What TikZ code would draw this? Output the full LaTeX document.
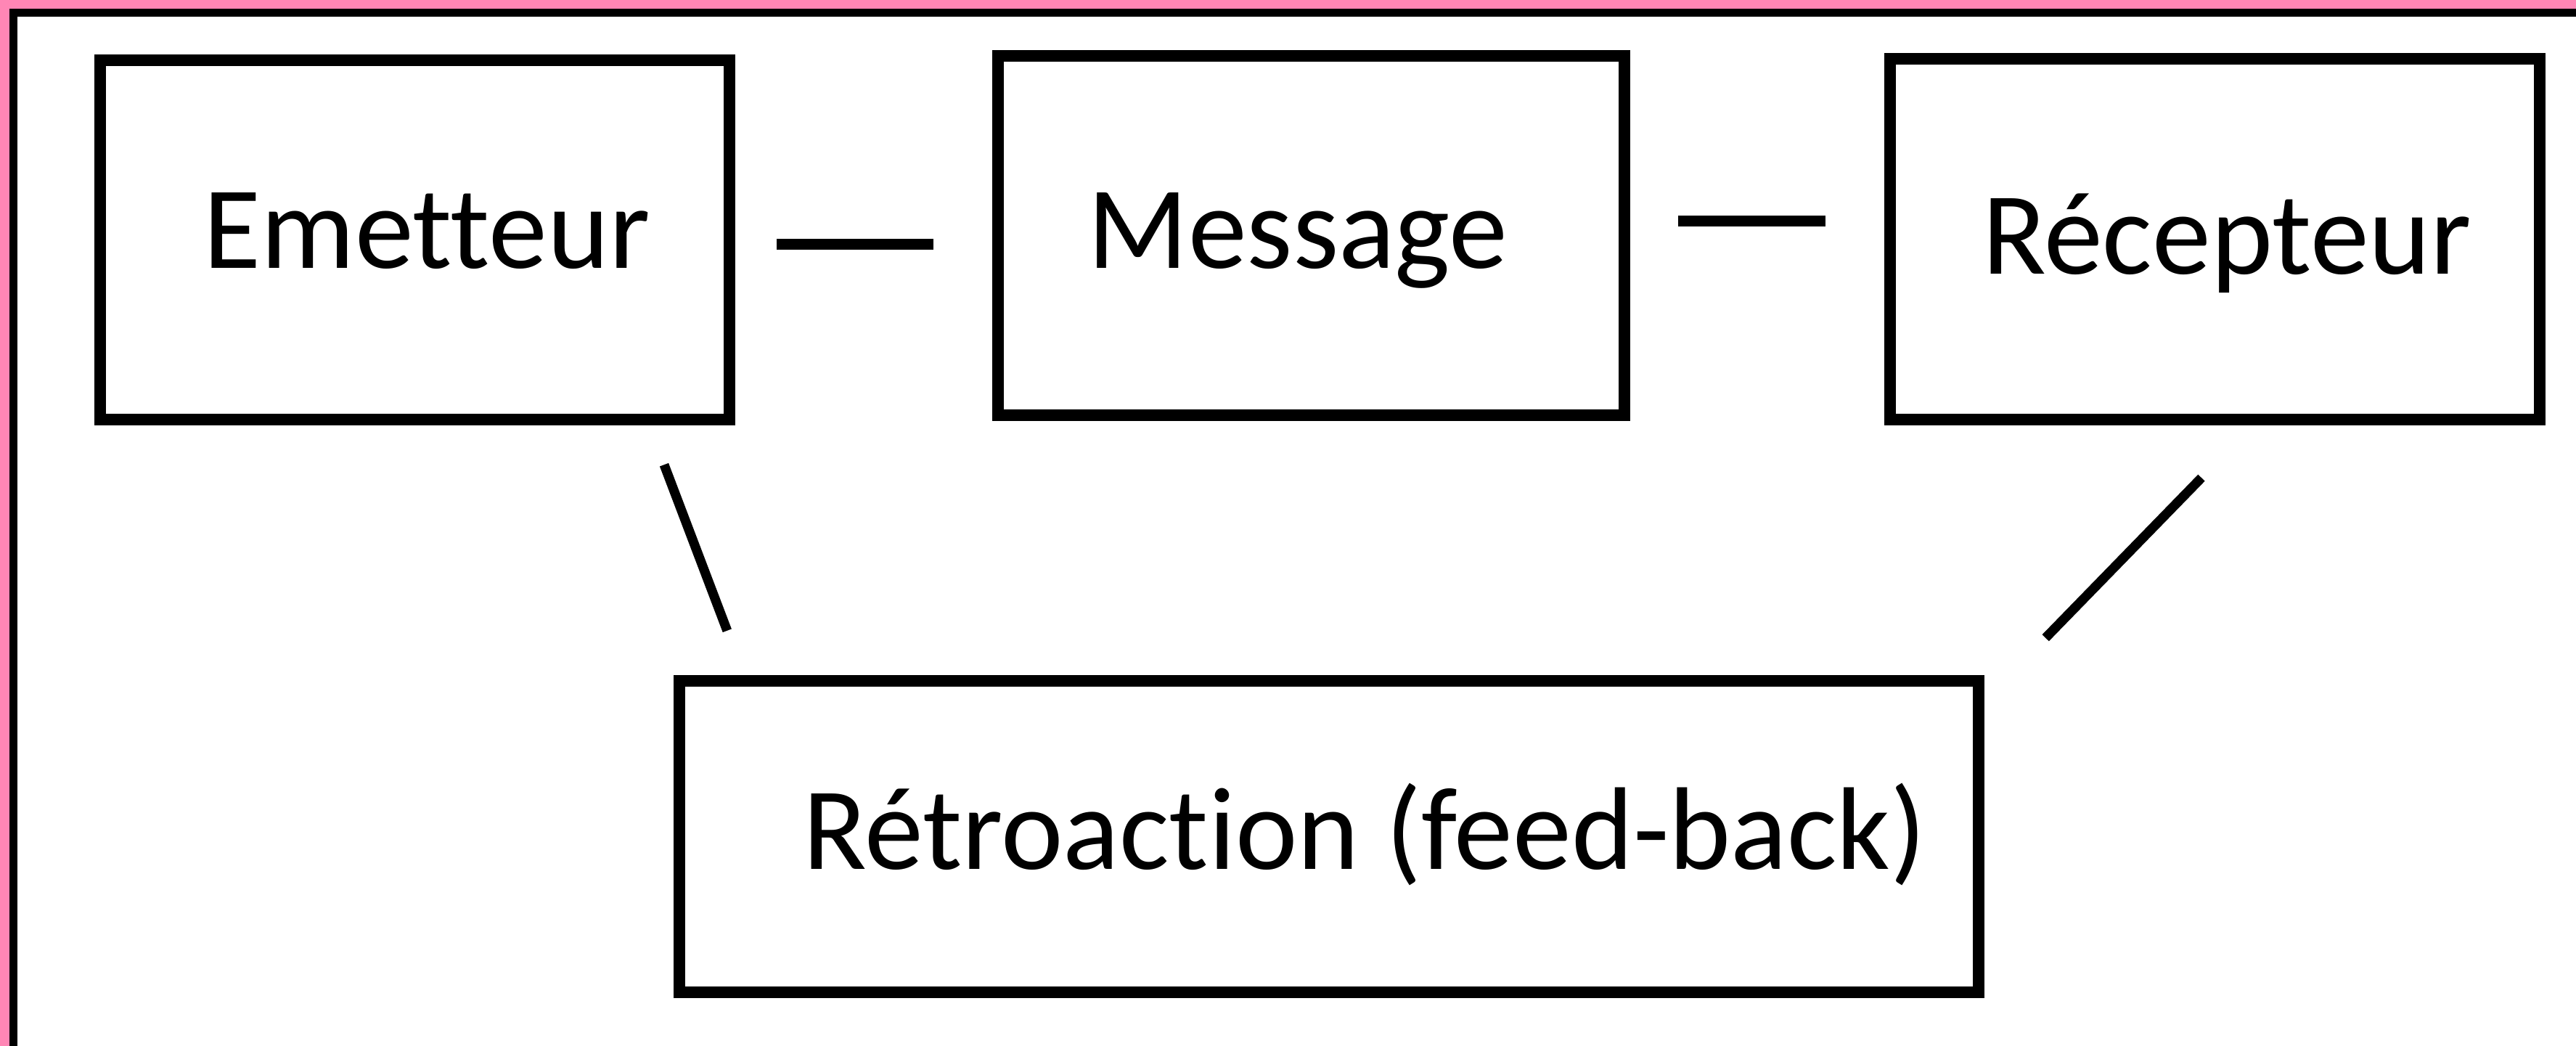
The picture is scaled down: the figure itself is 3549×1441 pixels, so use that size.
\documentclass[tikz,border=0pt]{standalone}
\usepackage{fontspec}
\setmainfont{Carlito}[Ligatures=NoCommon]
\usetikzlibrary{calc}
\definecolor{framepink}{RGB}{255,134,181}
\tikzset{
  box/.style={draw=black, line width=1.65pt, inner sep=0pt},
  lbl/.style={anchor=base, inner sep=0pt, font=\fontsize{16.2pt}{19pt}\selectfont},
  conn/.style={draw=black, line width=1.6pt},
  diag/.style={draw=black, line width=1.3pt}
}
\begin{document}
\begin{tikzpicture}[x=0.1pt,y=-0.1pt]
\useasboundingbox (0,0) rectangle (3549,1441);
\fill[white] (0,0) rectangle (3549,1441);
% frame
\fill[framepink] (0,0) rectangle (3549,12);
\fill[framepink] (0,0) rectangle (13,1441);
\fill[black] (13,12) rectangle (3549,23);
\fill[black] (13,12) rectangle (24,1441);
% boxes
\node[box, minimum width=86.7pt, minimum height=49.5pt] (emet) at (571.5,330.5) {};
\node[box, minimum width=86.3pt, minimum height=49.5pt] (mess) at (1806.5,324.5) {};
\node[box, minimum width=89.5pt, minimum height=49.7pt] (rece) at (3051.5,329.5) {};
\node[box, minimum width=179pt, minimum height=42.9pt] (retro) at (1831,1152.5) {};
% labels
\node[lbl] (temet) at (588,369) {Emetteur};
\node[lbl] (tmess) at (1788,369) {Message};
\node[lbl] (trece) at (3068,377) {Récepteur};
\node[lbl] (tretro) at (1880,1197) {Rétroaction (feed-back)};
% connectors
\draw[conn] ($(emet.east)+(57,6)$) -- ($(mess.west)+(-81,12)$);
\draw[conn] ($(mess.east)+(66,-20)$) -- ($(rece.west)+(-81,-25)$);
\draw[diag] ($(emet.south)+(343.5,54)$) -- ($(retro.north west)+(74,-61)$);
\draw[diag] ($(rece.south)+(-18.5,72)$) -- ($(retro.north east)+(84,-51)$);
\end{tikzpicture}
\end{document}
